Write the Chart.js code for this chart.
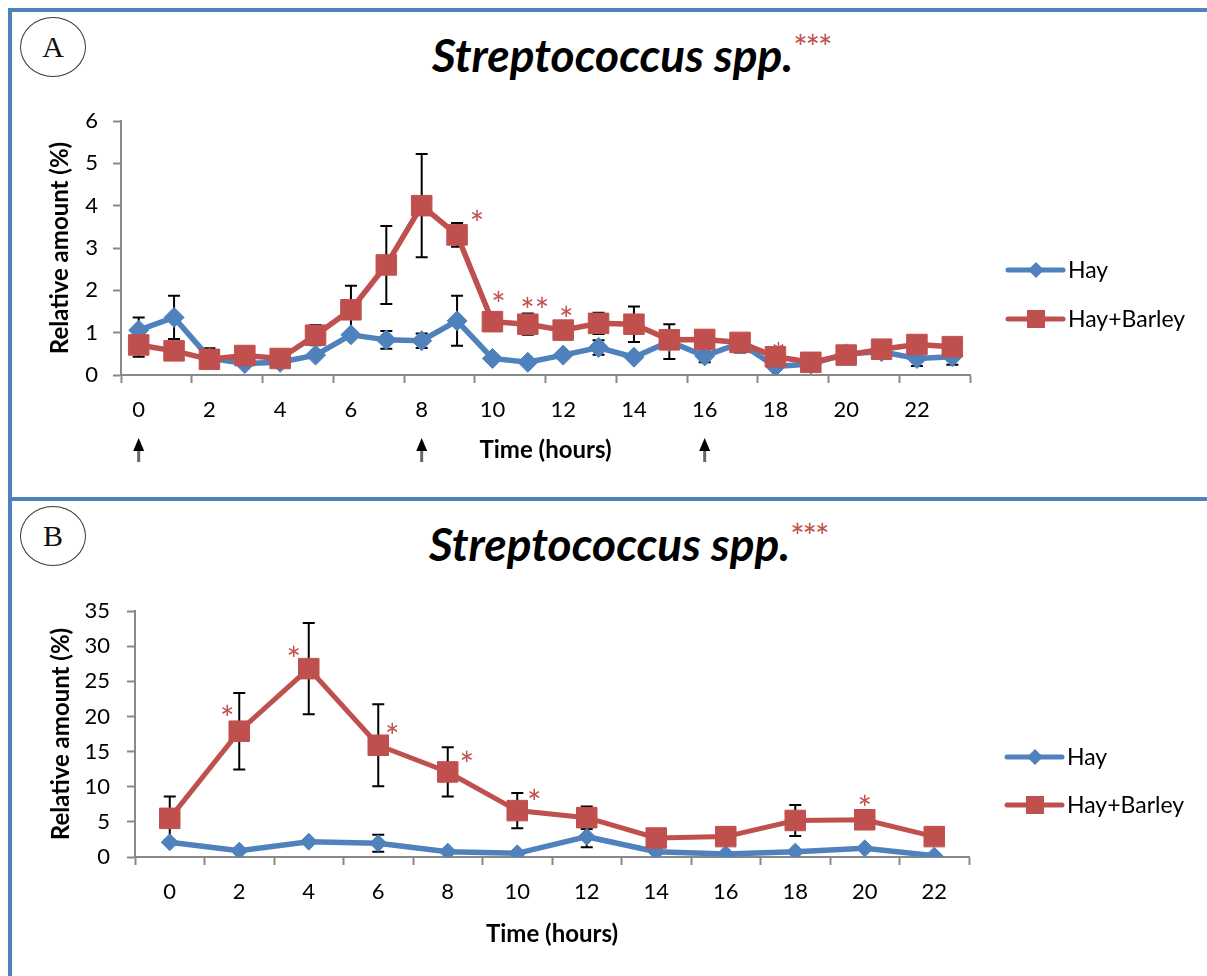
<!DOCTYPE html>
<html lang="en">
<head>
<meta charset="utf-8" />
<title>Streptococcus spp.</title>
<script src="https://cdn.jsdelivr.net/npm/chart.js"></script>
<style>
  body { margin: 0; width: 1207px; height: 976px; position: relative; overflow: hidden; background: #fff; font-family: Lato, sans-serif; }
  .rule { position: absolute; background: #4F81BD; }
  .badge { position: absolute; left: 20px; width: 66px; height: 60px; box-sizing: border-box; border: 1.5px solid #3a3a3a; border-radius: 50%;
           font-family: "Liberation Serif", "DejaVu Serif", serif; font-size: 30px; line-height: 57px; text-align: center; color: #111; }
  .title { position: absolute; white-space: nowrap; font: italic bold 46px/46px Lato, sans-serif; color: #000; }
  .title span { position: relative; top: -12px; font: normal 34px Lato, sans-serif; color: #C0504D; margin-left: 0; letter-spacing: -2px; }
  canvas { position: absolute; left: 12px; }
</style>
</head>
<body>
  <div class="rule" style="left:8px; top:8px; width:1199px; height:4px"></div>
  <div class="rule" style="left:8px; top:8px; width:4px; height:968px"></div>
  <div class="rule" style="left:8px; top:497px; width:1199px; height:4px"></div>

  <div class="badge" style="top:17px">A</div>
  <div class="title" style="left:432px; top:32px">Streptococcus spp.<span>***</span></div>
  <canvas id="chartA" width="1195" height="484" style="top:12px"></canvas>

  <div class="badge" style="top:506px">B</div>
  <div class="title" style="left:429px; top:521px">Streptococcus spp.<span>***</span></div>
  <canvas id="chartB" width="1195" height="475" style="top:501px"></canvas>

<script>
// ---- panel A: hourly sampling ----
const hoursA = ['0','1','2','3','4','5','6','7','8','9','10','11','12','13','14','15','16','17','18','19','20','21','22','23'];
const hayA = [1.06, 1.36, 0.40, 0.27, 0.30, 0.47, 0.95, 0.83, 0.81, 1.28, 0.39, 0.30, 0.47, 0.65, 0.42, 0.79, 0.45, 0.75, 0.20, 0.26, 0.50, 0.55, 0.39, 0.43];
const barleyA = [0.71, 0.57, 0.37, 0.46, 0.39, 0.94, 1.54, 2.60, 4.00, 3.31, 1.26, 1.20, 1.06, 1.22, 1.20, 0.83, 0.84, 0.77, 0.43, 0.30, 0.47, 0.61, 0.72, 0.67];
const hayErrA = [0.30, 0.51, 0.23, null, null, null, null, 0.21, 0.17, 0.59, null, null, null, 0.17, null, 0.41, 0.15, 0.22, null, null, null, null, 0.18, 0.19];
const barleyErrA = [0.28, null, null, null, null, 0.24, 0.57, 0.92, 1.22, 0.28, null, 0.25, null, 0.25, 0.42, null, null, null, null, null, null, null, null, null];
const sigA = ['', '', '', '', '', '', '', '', '', '*', '*', '**', '*', '', '', '', '', '', '*', '', '', '', '', ''];
const feedingA = ['0', '8', '16'];

// ---- panel B: 2-hourly sampling ----
const hoursB = ['0','2','4','6','8','10','12','14','16','18','20','22'];
const hayB = [2.09, 0.90, 2.18, 1.95, 0.76, 0.52, 2.89, 0.76, 0.43, 0.76, 1.23, 0.19];
const barleyB = [5.5, 17.9, 26.8, 15.9, 12.1, 6.6, 5.6, 2.7, 2.9, 5.2, 5.3, 2.9];
const hayErrB = [null, null, null, 1.2, null, null, 1.5, null, null, null, null, null];
const barleyErrB = [3.1, 5.45, 6.5, 5.85, 3.5, 2.5, 1.6, null, null, 2.2, null, null];
const sigB = ['', '*', '*', '*', '*', '*', '', '', '', '', '*', ''];

const BLUE = '#4F81BD';
const RED = '#C0504D';
const AXIS = '#898989';
const FONT = 'Lato, sans-serif';

// error bars, significance stars, feeding arrows and the line+marker legend
const extras = {
  id: 'extras',
  beforeDatasetsDraw(chart, args, o) {
    const ctx = chart.ctx, ys = chart.scales.y;
    ctx.save();
    ctx.strokeStyle = '#000';
    ctx.lineWidth = 2;
    chart.data.datasets.forEach((ds, di) => {
      const pts = chart.getDatasetMeta(di).data;
      (ds.errors || []).forEach((e, i) => {
        if (e == null) return;
        const px = pts[i].x;
        const t = ys.getPixelForValue(ds.data[i] + e);
        const b = ys.getPixelForValue(ds.data[i] - e);
        ctx.beginPath();
        ctx.moveTo(px, t); ctx.lineTo(px, b);
        ctx.moveTo(px - 6, t); ctx.lineTo(px + 6, t);
        ctx.moveTo(px - 6, b); ctx.lineTo(px + 6, b);
        ctx.stroke();
      });
    });
    // stars sit next to the Hay+Barley points
    ctx.fillStyle = RED;
    ctx.font = '34px ' + FONT;
    ctx.textAlign = 'center';
    ctx.textBaseline = 'alphabetic';
    chart.data.datasets.forEach((ds, di) => {
      const pts = chart.getDatasetMeta(di).data;
      (ds.stars || []).forEach((s, i) => {
        if (!s) return;
        const off = o.starOffsets[i] || [0, -20];
        ctx.fillText(s, pts[i].x + off[0], pts[i].y + off[1] + 20);
      });
    });
    ctx.restore();
  },
  afterDraw(chart, args, o) {
    const ctx = chart.ctx, xs = chart.scales.x, area = chart.chartArea;
    ctx.save();
    (o.arrows || []).forEach(h => {
      const ax = xs.getPixelForValue(chart.data.labels.indexOf(h));
      const b = area.bottom;
      ctx.strokeStyle = '#666';
      ctx.lineWidth = 3;
      ctx.beginPath(); ctx.moveTo(ax, b + 72); ctx.lineTo(ax, b + 87); ctx.stroke();
      ctx.fillStyle = '#000';
      ctx.beginPath(); ctx.moveTo(ax, b + 63); ctx.lineTo(ax - 5.5, b + 76); ctx.lineTo(ax + 5.5, b + 76); ctx.closePath(); ctx.fill();
    });
    // legend
    const lx = area.right + 38;
    chart.data.datasets.forEach((ds, di) => {
      const ly = area.top + o.legendRows[di];
      ctx.strokeStyle = ds.borderColor;
      ctx.lineWidth = 5;
      ctx.lineCap = 'round';
      ctx.beginPath(); ctx.moveTo(lx, ly); ctx.lineTo(lx + 55, ly); ctx.stroke();
      ctx.fillStyle = ds.borderColor;
      const cx = lx + 28;
      ctx.beginPath();
      if (ds.pointStyle === 'rect') {
        ctx.rect(cx - 9, ly - 9, 18, 18);
      } else {
        ctx.moveTo(cx - 8, ly); ctx.lineTo(cx, ly - 8); ctx.lineTo(cx + 8, ly); ctx.lineTo(cx, ly + 8); ctx.closePath();
      }
      ctx.fill();
      ctx.fillStyle = '#000';
      ctx.font = '23px ' + FONT;
      ctx.textAlign = 'left';
      ctx.textBaseline = 'middle';
      ctx.fillText(ds.label, lx + 60, ly + 1);
    });
    ctx.restore();
  }
};

function makePanel(id, labels, hay, barley, hayErr, barleyErr, sig, cfg) {
  return new Chart(document.getElementById(id), {
    type: 'line',
    data: {
      labels: labels,
      datasets: [
        {
          label: 'Hay', data: hay, errors: hayErr, order: 1,
          borderColor: BLUE, backgroundColor: BLUE, borderWidth: 5.5, tension: 0,
          pointStyle: 'rectRot', pointRadius: cfg.diamond, pointBorderWidth: 1,
          pointBackgroundColor: BLUE, pointBorderColor: BLUE
        },
        {
          label: 'Hay+Barley', data: barley, errors: barleyErr, stars: sig, order: 0,
          borderColor: RED, backgroundColor: RED, borderWidth: cfg.redLine, tension: 0,
          pointStyle: 'rect', pointRadius: 14.5, pointBorderWidth: 1,
          pointBackgroundColor: RED, pointBorderColor: RED
        }
      ]
    },
    options: {
      responsive: false,
      animation: false,
      layout: { padding: cfg.padding },
      plugins: {
        legend: { display: false },
        tooltip: { enabled: false },
        extras: { starOffsets: cfg.starOffsets, arrows: cfg.arrows, legendRows: cfg.legendRows }
      },
      scales: {
        x: {
          type: 'category',
          offset: true,
          border: { color: AXIS, width: 2 },
          grid: {
            offset: true, drawOnChartArea: false, tickLength: 8, tickWidth: 2,
            color: AXIS,
            tickColor: c => (c.index === undefined || c.index % cfg.tickEvery === 0) ? AXIS : 'rgba(0,0,0,0)'
          },
          ticks: {
            autoSkip: false, maxRotation: 0, padding: 14, color: '#000',
            font: { family: FONT, size: 22 },
            callback: function (v, i) { return i % cfg.labelEvery === 0 ? this.getLabelForValue(v) : ''; }
          },
          title: { display: true, text: 'Time (hours)', color: '#000', padding: 0, font: { family: FONT, size: 24, weight: 'bold' } },
          afterFit: s => { s.height = cfg.xHeight; }
        },
        y: {
          min: 0, max: cfg.yMax,
          border: { color: AXIS, width: 2 },
          grid: { drawOnChartArea: false, tickLength: 8, tickWidth: 2, tickColor: AXIS, color: AXIS },
          ticks: { stepSize: cfg.yStep, padding: cfg.yPad, color: '#000', font: { family: FONT, size: 22 } },
          title: { display: true, text: 'Relative amount (%)', color: '#000', padding: 0, font: { family: FONT, size: 24, weight: 'bold' } },
          afterFit: s => { s.width = cfg.yWidth; }
        }
      }
    },
    plugins: [extras]
  });
}

makePanel('chartA', hoursA, hayA, barleyA, hayErrA, barleyErrA, sigA, {
  padding: { top: 109, right: 237, left: 33.6, bottom: 31.6 },
  xHeight: 89.4, yWidth: 75.4, yMax: 6, yStep: 1, yPad: 15,
  tickEvery: 2, labelEvery: 2, diamond: 10, redLine: 5.5,
  arrows: feedingA,
  legendRows: [149, 198],
  starOffsets: { 9: [20, -19], 10: [6, -25], 11: [7, -21], 12: [3, -18], 18: [3, -9] }
});

makePanel('chartB', hoursB, hayB, barleyB, hayErrB, barleyErrB, sigB, {
  padding: { top: 110, right: 238, left: 34.6, bottom: 27.6 },
  xHeight: 91.4, yWidth: 88.4, yMax: 35, yStep: 5, yPad: 17,
  tickEvery: 1, labelEvery: 1, diamond: 8.5, redLine: 5,
  arrows: [],
  legendRows: [146, 194],
  starOffsets: { 1: [-12, -20], 2: [-15, -17], 3: [14, -16], 4: [19, -15], 5: [17, -16], 10: [0, -19] }
});
</script>
</body>
</html>
